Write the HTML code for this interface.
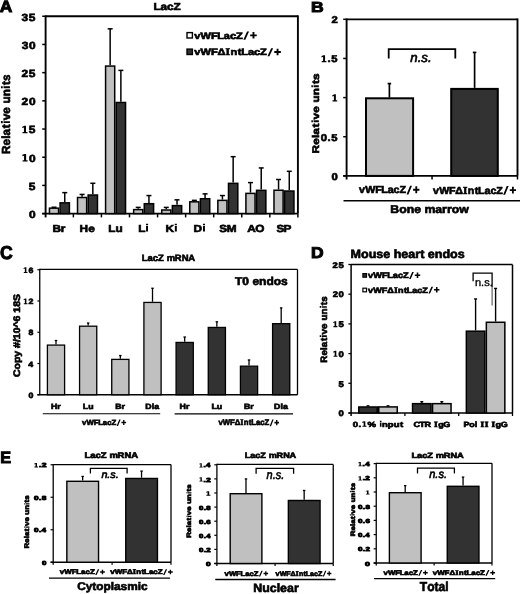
<!DOCTYPE html>
<html><head><meta charset="utf-8"><style>
html,body{margin:0;padding:0;background:#fff;}
body{width:520px;height:594px;overflow:hidden;}
svg{display:block;font-family:"Liberation Sans", sans-serif;font-kerning:none;}
.t text{stroke:#000;stroke-width:0.65px;paint-order:stroke;text-rendering:geometricPrecision;}
text{font-kerning:none;}
</style></head><body>
<svg width="520" height="594" viewBox="0 0 520 594">
<defs><filter id="bl" x="0" y="0" width="1" height="1"><feGaussianBlur stdDeviation="0.3"/></filter></defs>
<rect width="520" height="594" fill="#fff"/>
<g class="t" style="opacity:0.999" filter="url(#bl)">
<text transform="translate(-0.18 12.15) scale(1.0649 1)" font-size="16.377" style="font-weight:bold;stroke-width:1px" fill="#000">A</text>
<text transform="translate(310.98 12.25) scale(1.1986 1)" font-size="14.638" style="font-weight:bold;stroke-width:1px" fill="#000">B</text>
<text transform="translate(0.03 258.55) scale(0.9408 1)" font-size="18.696" style="font-weight:bold;stroke-width:1px" fill="#000">C</text>
<text transform="translate(310.98 257.85) scale(1.1251 1)" font-size="15.507" style="font-weight:bold;stroke-width:1px" fill="#000">D</text>
<text transform="translate(0.16 462.5) scale(0.9948 1)" font-size="16.304" style="font-weight:bold;stroke-width:1px" fill="#000">E</text>
<g transform="translate(154.02 10.44) scale(1.1660 1)"><text font-size="10.109" style="font-weight:bold"><tspan x="-0.47">L</tspan><tspan x="5.54">a</tspan><tspan x="11.2">c</tspan><tspan x="16.69">Z</tspan></text></g>
<line x1="45.6" y1="16.3" x2="297.9" y2="16.3" stroke="#000" stroke-width="1.9"/>
<line x1="297.9" y1="15.35" x2="297.9" y2="213.6" stroke="#000" stroke-width="1.9"/>
<line x1="45.6" y1="15.35" x2="45.6" y2="217.4" stroke="#000" stroke-width="1.9"/>
<line x1="42.2" y1="213.6" x2="297.9" y2="213.6" stroke="#000" stroke-width="1.9"/>
<line x1="42.2" y1="213.6" x2="45.6" y2="213.6" stroke="#000" stroke-width="1.5"/>
<g transform="translate(28.6 217.89) scale(1.1500 1)"><text font-size="10.399" style="font-weight:bold"><tspan x="0.33">0</tspan></text></g>
<line x1="42.2" y1="185.41" x2="45.6" y2="185.41" stroke="#000" stroke-width="1.5"/>
<g transform="translate(28.47 189.7) scale(1.1500 1)"><text font-size="10.399" style="font-weight:bold"><tspan x="0.31">5</tspan></text></g>
<line x1="42.2" y1="157.22" x2="45.6" y2="157.22" stroke="#000" stroke-width="1.5"/>
<g transform="translate(21.2 161.51) scale(1.1500 1)"><text font-size="10.399" style="font-weight:bold"><tspan x="6.76">0</tspan></text><path d="M2.49 -1.35 L2.49 -5.88 L1.04 -5.2 L1.04 -6.66 L2.98 -7.56 L4.3 -7.56 L4.3 -1.35 L5.56 -1.35 L5.56 -0 L1.22 -0 L1.22 -1.35 Z" fill="#000"/></g>
<line x1="42.2" y1="129.03" x2="45.6" y2="129.03" stroke="#000" stroke-width="1.5"/>
<g transform="translate(21.07 133.32) scale(1.1500 1)"><text font-size="10.399" style="font-weight:bold"><tspan x="6.74">5</tspan></text><path d="M2.49 -1.35 L2.49 -5.88 L1.04 -5.2 L1.04 -6.66 L2.98 -7.56 L4.3 -7.56 L4.3 -1.35 L5.56 -1.35 L5.56 -0 L1.22 -0 L1.22 -1.35 Z" fill="#000"/></g>
<line x1="42.2" y1="100.84" x2="45.6" y2="100.84" stroke="#000" stroke-width="1.5"/>
<g transform="translate(21.2 105.13) scale(1.1500 1)"><text font-size="10.399" style="font-weight:bold"><tspan x="0.35">2</tspan><tspan x="6.76">0</tspan></text></g>
<line x1="42.2" y1="72.65" x2="45.6" y2="72.65" stroke="#000" stroke-width="1.5"/>
<g transform="translate(21.07 76.94) scale(1.1500 1)"><text font-size="10.399" style="font-weight:bold"><tspan x="0.35">2</tspan><tspan x="6.74">5</tspan></text></g>
<line x1="42.2" y1="44.46" x2="45.6" y2="44.46" stroke="#000" stroke-width="1.5"/>
<g transform="translate(21.2 48.75) scale(1.1500 1)"><text font-size="10.399" style="font-weight:bold"><tspan x="0.39">3</tspan><tspan x="6.76">0</tspan></text></g>
<line x1="42.2" y1="16.27" x2="45.6" y2="16.27" stroke="#000" stroke-width="1.5"/>
<g transform="translate(21.07 20.56) scale(1.1500 1)"><text font-size="10.399" style="font-weight:bold"><tspan x="0.39">3</tspan><tspan x="6.74">5</tspan></text></g>
<line x1="54.02" y1="207.4" x2="54.02" y2="207.23" stroke="#000" stroke-width="1.5"/>
<line x1="51.52" y1="207.23" x2="56.52" y2="207.23" stroke="#000" stroke-width="1.5"/>
<line x1="64.75" y1="202.1" x2="64.75" y2="192.63" stroke="#000" stroke-width="1.5"/>
<line x1="62.25" y1="192.63" x2="67.25" y2="192.63" stroke="#000" stroke-width="1.5"/>
<rect x="49.45" y="208.15" width="9.13" height="5.45" fill="#c0c0c0" stroke="#000" stroke-width="1.5"/>
<rect x="60.08" y="202.85" width="9.33" height="10.75" fill="#333333" stroke="#000" stroke-width="1.5"/>
<g transform="translate(53.09 231.54) scale(1.1500 1)"><text font-size="10.254" style="font-weight:bold"><tspan x="-0.42">B</tspan><tspan x="6.75">r</tspan></text></g>
<line x1="73.37" y1="213.6" x2="73.37" y2="217.4" stroke="#000" stroke-width="1.5"/>
<line x1="82.08" y1="196.74" x2="82.08" y2="194.43" stroke="#000" stroke-width="1.5"/>
<line x1="79.58" y1="194.43" x2="84.58" y2="194.43" stroke="#000" stroke-width="1.5"/>
<line x1="92.82" y1="194.26" x2="92.82" y2="183.27" stroke="#000" stroke-width="1.5"/>
<line x1="90.32" y1="183.27" x2="95.32" y2="183.27" stroke="#000" stroke-width="1.5"/>
<rect x="77.52" y="197.49" width="9.13" height="16.11" fill="#c0c0c0" stroke="#000" stroke-width="1.5"/>
<rect x="88.15" y="195.01" width="9.33" height="18.59" fill="#333333" stroke="#000" stroke-width="1.5"/>
<g transform="translate(79.57 231.54) scale(1.1500 1)"><text font-size="10.254" style="font-weight:bold"><tspan x="0.03">H</tspan><tspan x="7.55">e</tspan></text></g>
<line x1="101.43" y1="213.6" x2="101.43" y2="217.4" stroke="#000" stroke-width="1.5"/>
<line x1="110.15" y1="65.32" x2="110.15" y2="28.84" stroke="#000" stroke-width="1.5"/>
<line x1="107.65" y1="28.84" x2="112.65" y2="28.84" stroke="#000" stroke-width="1.5"/>
<line x1="120.88" y1="101.74" x2="120.88" y2="70.39" stroke="#000" stroke-width="1.5"/>
<line x1="118.38" y1="70.39" x2="123.38" y2="70.39" stroke="#000" stroke-width="1.5"/>
<rect x="105.58" y="66.07" width="9.13" height="147.53" fill="#c0c0c0" stroke="#000" stroke-width="1.5"/>
<rect x="116.22" y="102.49" width="9.33" height="111.11" fill="#333333" stroke="#000" stroke-width="1.5"/>
<g transform="translate(108.83 231.54) scale(1.1500 1)"><text font-size="10.254" style="font-weight:bold"><tspan x="-0.48">L</tspan><tspan x="5.74">u</tspan></text></g>
<line x1="129.5" y1="213.6" x2="129.5" y2="217.4" stroke="#000" stroke-width="1.5"/>
<line x1="138.22" y1="208.86" x2="138.22" y2="207.4" stroke="#000" stroke-width="1.5"/>
<line x1="135.72" y1="207.4" x2="140.72" y2="207.4" stroke="#000" stroke-width="1.5"/>
<line x1="148.95" y1="202.94" x2="148.95" y2="195.56" stroke="#000" stroke-width="1.5"/>
<line x1="146.45" y1="195.56" x2="151.45" y2="195.56" stroke="#000" stroke-width="1.5"/>
<rect x="133.65" y="209.61" width="9.13" height="3.99" fill="#c0c0c0" stroke="#000" stroke-width="1.5"/>
<rect x="144.28" y="203.69" width="9.33" height="9.91" fill="#333333" stroke="#000" stroke-width="1.5"/>
<g transform="translate(138.75 231.54) scale(1.1500 1)"><text font-size="10.254" style="font-weight:bold"><tspan x="-0.48">L</tspan></text><path d="M6.35 -0 H8.06 V-5.59 H6.35 Z M6.3 -6.31 H8.1 V-7.9 H6.3 Z" fill="#000"/></g>
<line x1="157.57" y1="213.6" x2="157.57" y2="217.4" stroke="#000" stroke-width="1.5"/>
<line x1="166.28" y1="209.26" x2="166.28" y2="207.4" stroke="#000" stroke-width="1.5"/>
<line x1="163.78" y1="207.4" x2="168.78" y2="207.4" stroke="#000" stroke-width="1.5"/>
<line x1="177.02" y1="204.86" x2="177.02" y2="199.84" stroke="#000" stroke-width="1.5"/>
<line x1="174.52" y1="199.84" x2="179.52" y2="199.84" stroke="#000" stroke-width="1.5"/>
<rect x="161.72" y="210.01" width="9.13" height="3.59" fill="#c0c0c0" stroke="#000" stroke-width="1.5"/>
<rect x="172.35" y="205.61" width="9.33" height="7.99" fill="#333333" stroke="#000" stroke-width="1.5"/>
<g transform="translate(166.18 231.54) scale(1.1500 1)"><text font-size="10.254" style="font-weight:bold"><tspan x="-0.56">K</tspan></text><path d="M7.54 -0 H9.26 V-5.59 H7.54 Z M7.5 -6.31 H9.3 V-7.9 H7.5 Z" fill="#000"/></g>
<line x1="185.63" y1="213.6" x2="185.63" y2="217.4" stroke="#000" stroke-width="1.5"/>
<line x1="194.35" y1="201.08" x2="194.35" y2="200.35" stroke="#000" stroke-width="1.5"/>
<line x1="191.85" y1="200.35" x2="196.85" y2="200.35" stroke="#000" stroke-width="1.5"/>
<line x1="205.08" y1="197.98" x2="205.08" y2="193.87" stroke="#000" stroke-width="1.5"/>
<line x1="202.58" y1="193.87" x2="207.58" y2="193.87" stroke="#000" stroke-width="1.5"/>
<rect x="189.78" y="201.83" width="9.13" height="11.77" fill="#c0c0c0" stroke="#000" stroke-width="1.5"/>
<rect x="200.42" y="198.73" width="9.33" height="14.87" fill="#333333" stroke="#000" stroke-width="1.5"/>
<g transform="translate(193.7 231.54) scale(1.1500 1)"><text font-size="10.254" style="font-weight:bold"><tspan x="-0.13">D</tspan></text><path d="M8.07 -0 H9.78 V-5.59 H8.07 Z M8.02 -6.31 H9.83 V-7.9 H8.02 Z" fill="#000"/></g>
<line x1="213.7" y1="213.6" x2="213.7" y2="217.4" stroke="#000" stroke-width="1.5"/>
<line x1="222.42" y1="199.62" x2="222.42" y2="195.56" stroke="#000" stroke-width="1.5"/>
<line x1="219.92" y1="195.56" x2="224.92" y2="195.56" stroke="#000" stroke-width="1.5"/>
<line x1="233.15" y1="182.59" x2="233.15" y2="156.66" stroke="#000" stroke-width="1.5"/>
<line x1="230.65" y1="156.66" x2="235.65" y2="156.66" stroke="#000" stroke-width="1.5"/>
<rect x="217.85" y="200.37" width="9.13" height="13.23" fill="#c0c0c0" stroke="#000" stroke-width="1.5"/>
<rect x="228.48" y="183.34" width="9.33" height="30.26" fill="#333333" stroke="#000" stroke-width="1.5"/>
<g transform="translate(219.55 231.54) scale(1.1500 1)"><text font-size="10.254" style="font-weight:bold"><tspan x="-0.2">S</tspan><tspan x="6.29">M</tspan></text></g>
<line x1="241.77" y1="213.6" x2="241.77" y2="217.4" stroke="#000" stroke-width="1.5"/>
<line x1="250.48" y1="192.63" x2="250.48" y2="182.59" stroke="#000" stroke-width="1.5"/>
<line x1="247.98" y1="182.59" x2="252.98" y2="182.59" stroke="#000" stroke-width="1.5"/>
<line x1="261.22" y1="189.58" x2="261.22" y2="167.93" stroke="#000" stroke-width="1.5"/>
<line x1="258.72" y1="167.93" x2="263.72" y2="167.93" stroke="#000" stroke-width="1.5"/>
<rect x="245.92" y="193.38" width="9.13" height="20.22" fill="#c0c0c0" stroke="#000" stroke-width="1.5"/>
<rect x="256.55" y="190.33" width="9.33" height="23.27" fill="#333333" stroke="#000" stroke-width="1.5"/>
<g transform="translate(247.58 231.54) scale(1.1500 1)"><text font-size="10.254" style="font-weight:bold"><tspan x="-0.24">A</tspan><tspan x="6.73">O</tspan></text></g>
<line x1="269.83" y1="213.6" x2="269.83" y2="217.4" stroke="#000" stroke-width="1.5"/>
<line x1="278.55" y1="189.47" x2="278.55" y2="179.49" stroke="#000" stroke-width="1.5"/>
<line x1="276.05" y1="179.49" x2="281.05" y2="179.49" stroke="#000" stroke-width="1.5"/>
<line x1="289.28" y1="190.26" x2="289.28" y2="171.31" stroke="#000" stroke-width="1.5"/>
<line x1="286.78" y1="171.31" x2="291.78" y2="171.31" stroke="#000" stroke-width="1.5"/>
<rect x="273.98" y="190.22" width="9.13" height="23.38" fill="#c0c0c0" stroke="#000" stroke-width="1.5"/>
<rect x="284.62" y="191.01" width="9.33" height="22.59" fill="#333333" stroke="#000" stroke-width="1.5"/>
<g transform="translate(276.63 231.54) scale(1.1500 1)"><text font-size="10.254" style="font-weight:bold"><tspan x="-0.2">S</tspan><tspan x="6.01">P</tspan></text></g>
<line x1="297.9" y1="213.6" x2="297.9" y2="217.4" stroke="#000" stroke-width="1.5"/>
<rect x="187" y="32.6" width="5.4" height="5.4" fill="#fff" stroke="#000" stroke-width="1.4"/>
<rect x="187" y="49.1" width="5.4" height="5.4" fill="#333333" stroke="#000" stroke-width="1.4"/>
<g transform="translate(194.26 38.59) scale(1.1718 1)"><text font-size="9.457" style="font-weight:bold"><tspan x="0.05">v</tspan><tspan x="5.43">W</tspan><tspan x="14.21">F</tspan><tspan x="19.61">L</tspan><tspan x="25.23">a</tspan><tspan x="30.52">c</tspan><tspan x="35.66">Z</tspan></text><path d="M41.9 1.04 L43.58 1.04 L46.75 -7.05 L45.06 -7.05 Z M47.73 -2.36 H53.32 V-4.21 H47.73 Z M49.72 -0.09 H51.33 V-6.48 H49.72 Z" fill="#000"/></g>
<g transform="translate(194.26 55.24) scale(1.1825 1)"><text font-size="9.384" style="font-weight:bold"><tspan x="0.05">v</tspan><tspan x="5.39">W</tspan><tspan x="14.1">F</tspan><tspan x="19.69">Δ</tspan><tspan x="26.53" style="font-family:'Liberation Serif',serif" font-size="9.857">I</tspan><tspan x="30.69">n</tspan><tspan x="36.78">t</tspan><tspan x="39.77">L</tspan><tspan x="45.35">a</tspan><tspan x="50.6">c</tspan><tspan x="55.69">Z</tspan></text><path d="M61.89 1.03 L63.56 1.03 L66.7 -6.99 L65.03 -6.99 Z M67.67 -2.35 H73.22 V-4.18 H67.67 Z M69.65 -0.09 H71.25 V-6.43 H69.65 Z" fill="#000"/></g>
<g transform="translate(9.94 153.24) rotate(-90) translate(-0.2 0) scale(1.0023 1)"><text font-size="11.703" style="font-weight:bold"><tspan x="-0.58">R</tspan><tspan x="7.93">e</tspan><tspan x="14.71">l</tspan><tspan x="18.01">a</tspan><tspan x="25.24">t</tspan><tspan x="33.06">v</tspan><tspan x="39.72">e</tspan><tspan x="49.94">u</tspan><tspan x="57.14">n</tspan><tspan x="68.21">t</tspan><tspan x="72.27">s</tspan></text><path d="M30.27 -0 H32.23 V-6.38 H30.27 Z M30.22 -7.2 H32.28 V-9.01 H30.22 Z M65.12 -0 H67.07 V-6.38 H65.12 Z M65.07 -7.2 H67.12 V-9.01 H65.07 Z" fill="#000"/></g>
<line x1="346.6" y1="19.4" x2="517.5" y2="19.4" stroke="#000" stroke-width="1.9"/>
<line x1="517.5" y1="18.45" x2="517.5" y2="175.9" stroke="#000" stroke-width="1.9"/>
<line x1="346.6" y1="18.45" x2="346.6" y2="179.5" stroke="#000" stroke-width="1.9"/>
<line x1="343.2" y1="175.9" x2="517.5" y2="175.9" stroke="#000" stroke-width="1.9"/>
<line x1="343.2" y1="175.9" x2="346.6" y2="175.9" stroke="#000" stroke-width="1.5"/>
<g transform="translate(331.06 179.79) scale(1.1500 1)"><text font-size="9.819" style="font-weight:bold"><tspan x="0.31">0</tspan></text></g>
<line x1="343.2" y1="136.75" x2="346.6" y2="136.75" stroke="#000" stroke-width="1.5"/>
<g transform="translate(320.39 140.64) scale(1.1500 1)"><text font-size="9.819" style="font-weight:bold"><tspan x="0.31">0</tspan><tspan x="6.26">.</tspan><tspan x="9.46">5</tspan></text></g>
<line x1="343.2" y1="97.6" x2="346.6" y2="97.6" stroke="#000" stroke-width="1.5"/>
<g transform="translate(331.2 101.49) scale(1.1500 1)"><path d="M2.35 -1.28 L2.35 -5.55 L0.98 -4.91 L0.98 -6.28 L2.82 -7.14 L4.06 -7.14 L4.06 -1.28 L5.25 -1.28 L5.25 -0 L1.15 -0 L1.15 -1.28 Z" fill="#000"/></g>
<line x1="343.2" y1="58.45" x2="346.6" y2="58.45" stroke="#000" stroke-width="1.5"/>
<g transform="translate(320.39 62.34) scale(1.1500 1)"><text font-size="9.819" style="font-weight:bold"><tspan x="6.26">.</tspan><tspan x="9.46">5</tspan></text><path d="M2.35 -1.28 L2.35 -5.55 L0.98 -4.91 L0.98 -6.28 L2.82 -7.14 L4.06 -7.14 L4.06 -1.28 L5.25 -1.28 L5.25 -0 L1.15 -0 L1.15 -1.28 Z" fill="#000"/></g>
<line x1="343.2" y1="19.3" x2="346.6" y2="19.3" stroke="#000" stroke-width="1.5"/>
<g transform="translate(331.03 23.19) scale(1.1500 1)"><text font-size="9.819" style="font-weight:bold"><tspan x="0.33">2</tspan></text></g>
<line x1="432.05" y1="175.9" x2="432.05" y2="179.5" stroke="#000" stroke-width="1.5"/>
<line x1="517.5" y1="175.9" x2="517.5" y2="179.5" stroke="#000" stroke-width="1.5"/>
<line x1="389.4" y1="97.6" x2="389.4" y2="83.58" stroke="#000" stroke-width="1.7"/>
<line x1="387.65" y1="83.58" x2="391.15" y2="83.58" stroke="#000" stroke-width="1.7"/>
<line x1="474.6" y1="87.89" x2="474.6" y2="52.42" stroke="#000" stroke-width="1.7"/>
<line x1="472.85" y1="52.42" x2="476.35" y2="52.42" stroke="#000" stroke-width="1.7"/>
<rect x="366" y="98.29" width="47.1" height="77.61" fill="#c0c0c0" stroke="#000" stroke-width="2"/>
<rect x="451.2" y="88.89" width="46.6" height="87.01" fill="#333333" stroke="#000" stroke-width="2"/>
<polyline points="388.7,58.4 388.7,49.2 455.3,49.2 455.3,58.4" fill="none" stroke="#000" stroke-width="1.8"/>
<text transform="translate(410.24 61.94) scale(1.0100 1)" font-size="13.160" style="font-style:italic" fill="#000">n.s.</text>
<g transform="translate(318.84 152.64) rotate(-90) translate(-0.21 0) scale(1.2202 1)"><text font-size="9.674" style="font-weight:bold"><tspan x="-0.48">R</tspan><tspan x="6.56">e</tspan><tspan x="12.16">l</tspan><tspan x="14.89">a</tspan><tspan x="20.87">t</tspan><tspan x="27.33">v</tspan><tspan x="32.84">e</tspan><tspan x="41.28">u</tspan><tspan x="47.23">n</tspan><tspan x="56.38">t</tspan><tspan x="59.74">s</tspan></text><path d="M25.03 -0 H26.64 V-5.27 H25.03 Z M24.98 -5.95 H26.68 V-7.45 H24.98 Z M53.83 -0 H55.44 V-5.27 H53.83 Z M53.79 -5.95 H55.49 V-7.45 H53.79 Z" fill="#000"/></g>
<g transform="translate(359.06 193.34) scale(1.0444 1)"><text font-size="10.254" style="font-weight:bold"><tspan x="0.06">v</tspan><tspan x="5.89">W</tspan><tspan x="15.41">F</tspan><tspan x="21.26">L</tspan><tspan x="27.36">a</tspan><tspan x="33.09">c</tspan><tspan x="38.66">Z</tspan></text><path d="M45.43 1.13 L47.26 1.13 L50.69 -7.64 L48.86 -7.64 Z M51.75 -2.56 H57.81 V-4.56 H51.75 Z M53.91 -0.1 H55.65 V-7.02 H53.91 Z" fill="#000"/></g>
<g transform="translate(433.06 193.64) scale(1.0520 1)"><text font-size="10.109" style="font-weight:bold"><tspan x="0.06">v</tspan><tspan x="5.81">W</tspan><tspan x="15.19">F</tspan><tspan x="21.21">Δ</tspan><tspan x="28.58" style="font-family:'Liberation Serif',serif" font-size="10.618">I</tspan><tspan x="33.06">n</tspan><tspan x="39.62">t</tspan><tspan x="42.84">L</tspan><tspan x="48.85">a</tspan><tspan x="54.5">c</tspan><tspan x="59.99">Z</tspan></text><path d="M66.66 1.11 L68.47 1.11 L71.85 -7.53 L70.05 -7.53 Z M72.9 -2.53 H78.87 V-4.5 H72.9 Z M75.02 -0.1 H76.75 V-6.92 H75.02 Z" fill="#000"/></g>
<line x1="343.5" y1="200.8" x2="520" y2="200.8" stroke="#000" stroke-width="1.4"/>
<text transform="translate(390.34 213.04) scale(1.0898 1)" font-size="11.268" style="font-weight:bold" fill="#000">Bone marrow</text>
<g transform="translate(142.27 261.44) scale(1.0410 1)"><text font-size="9.094" style="font-weight:bold"><tspan x="-0.42">L</tspan><tspan x="4.99">a</tspan><tspan x="10.07">c</tspan><tspan x="15.01">Z</tspan><tspan x="23.44">m</tspan><tspan x="31.24">R</tspan><tspan x="37.84">N</tspan><tspan x="44.27">A</tspan></text></g>
<line x1="39.75" y1="269.4" x2="297.5" y2="269.4" stroke="#000" stroke-width="1.3"/>
<line x1="297.5" y1="269.4" x2="297.5" y2="394.75" stroke="#000" stroke-width="1.3"/>
<line x1="39.75" y1="268.8" x2="39.75" y2="394.75" stroke="#000" stroke-width="1.3"/>
<line x1="37.4" y1="394.75" x2="297.5" y2="394.75" stroke="#000" stroke-width="1.3"/>
<line x1="37.4" y1="394.75" x2="39.75" y2="394.75" stroke="#000" stroke-width="1.2"/>
<g transform="translate(28.23 397.89) scale(1.1500 1)"><text font-size="7.645" style="font-weight:bold"><tspan x="0.24">0</tspan></text></g>
<line x1="37.4" y1="363.5" x2="39.75" y2="363.5" stroke="#000" stroke-width="1.2"/>
<g transform="translate(27.97 366.64) scale(1.1500 1)"><text font-size="7.645" style="font-weight:bold"><tspan x="0.2">4</tspan></text></g>
<line x1="37.4" y1="332.25" x2="39.75" y2="332.25" stroke="#000" stroke-width="1.2"/>
<g transform="translate(28.15 335.39) scale(1.1500 1)"><text font-size="7.645" style="font-weight:bold"><tspan x="0.23">8</tspan></text></g>
<line x1="37.4" y1="301" x2="39.75" y2="301" stroke="#000" stroke-width="1.2"/>
<g transform="translate(22.77 304.14) scale(1.1500 1)"><text font-size="7.645" style="font-weight:bold"><tspan x="4.98">2</tspan></text><path d="M1.83 -0.99 L1.83 -4.32 L0.76 -3.82 L0.76 -4.89 L2.19 -5.56 L3.16 -5.56 L3.16 -0.99 L4.09 -0.99 L4.09 -0 L0.9 -0 L0.9 -0.99 Z" fill="#000"/></g>
<line x1="37.4" y1="269.75" x2="39.75" y2="269.75" stroke="#000" stroke-width="1.2"/>
<g transform="translate(22.76 272.89) scale(1.1500 1)"><text font-size="7.645" style="font-weight:bold"><tspan x="4.96">6</tspan></text><path d="M1.83 -0.99 L1.83 -4.32 L0.76 -3.82 L0.76 -4.89 L2.19 -5.56 L3.16 -5.56 L3.16 -0.99 L4.09 -0.99 L4.09 -0 L0.9 -0 L0.9 -0.99 Z" fill="#000"/></g>
<line x1="56" y1="344.44" x2="56" y2="340.53" stroke="#000" stroke-width="1.3"/>
<line x1="54.75" y1="340.53" x2="57.25" y2="340.53" stroke="#000" stroke-width="1.3"/>
<rect x="47.4" y="345.09" width="17.2" height="49.66" fill="#c0c0c0" stroke="#000" stroke-width="1.3"/>
<g transform="translate(50.87 408.54) scale(1.1500 1)"><text font-size="7.645" style="font-weight:bold"><tspan x="0.02">H</tspan><tspan x="5.53">r</tspan></text></g>
<line x1="88.17" y1="325.53" x2="88.17" y2="323.03" stroke="#000" stroke-width="1.3"/>
<line x1="86.92" y1="323.03" x2="89.42" y2="323.03" stroke="#000" stroke-width="1.3"/>
<rect x="79.57" y="326.18" width="17.2" height="68.57" fill="#c0c0c0" stroke="#000" stroke-width="1.3"/>
<g transform="translate(83.22 408.54) scale(1.1500 1)"><text font-size="7.645" style="font-weight:bold"><tspan x="-0.36">L</tspan><tspan x="4.28">u</tspan></text></g>
<line x1="120.34" y1="358.73" x2="120.34" y2="355.53" stroke="#000" stroke-width="1.3"/>
<line x1="119.09" y1="355.53" x2="121.59" y2="355.53" stroke="#000" stroke-width="1.3"/>
<rect x="111.74" y="359.38" width="17.2" height="35.37" fill="#c0c0c0" stroke="#000" stroke-width="1.3"/>
<g transform="translate(115.68 408.54) scale(1.1500 1)"><text font-size="7.645" style="font-weight:bold"><tspan x="-0.31">B</tspan><tspan x="5.04">r</tspan></text></g>
<line x1="152.51" y1="301.78" x2="152.51" y2="288.27" stroke="#000" stroke-width="1.3"/>
<line x1="151.26" y1="288.27" x2="153.76" y2="288.27" stroke="#000" stroke-width="1.3"/>
<rect x="143.91" y="302.43" width="17.2" height="92.32" fill="#c0c0c0" stroke="#000" stroke-width="1.3"/>
<g transform="translate(145.34 408.54) scale(1.1500 1)"><text font-size="7.645" style="font-weight:bold"><tspan x="-0.1">D</tspan><tspan x="5.6">l</tspan><tspan x="7.75">a</tspan></text></g>
<line x1="184.68" y1="341.78" x2="184.68" y2="337.02" stroke="#000" stroke-width="1.3"/>
<line x1="183.43" y1="337.02" x2="185.93" y2="337.02" stroke="#000" stroke-width="1.3"/>
<rect x="176.08" y="342.43" width="17.2" height="52.32" fill="#333333" stroke="#000" stroke-width="1.3"/>
<g transform="translate(179.55 408.54) scale(1.1500 1)"><text font-size="7.645" style="font-weight:bold"><tspan x="0.02">H</tspan><tspan x="5.53">r</tspan></text></g>
<line x1="216.85" y1="326.78" x2="216.85" y2="321.78" stroke="#000" stroke-width="1.3"/>
<line x1="215.6" y1="321.78" x2="218.1" y2="321.78" stroke="#000" stroke-width="1.3"/>
<rect x="208.25" y="327.43" width="17.2" height="67.32" fill="#333333" stroke="#000" stroke-width="1.3"/>
<g transform="translate(211.9 408.54) scale(1.1500 1)"><text font-size="7.645" style="font-weight:bold"><tspan x="-0.36">L</tspan><tspan x="4.28">u</tspan></text></g>
<line x1="249.02" y1="365.53" x2="249.02" y2="359.98" stroke="#000" stroke-width="1.3"/>
<line x1="247.77" y1="359.98" x2="250.27" y2="359.98" stroke="#000" stroke-width="1.3"/>
<rect x="240.42" y="366.18" width="17.2" height="28.57" fill="#333333" stroke="#000" stroke-width="1.3"/>
<g transform="translate(244.36 408.54) scale(1.1500 1)"><text font-size="7.645" style="font-weight:bold"><tspan x="-0.31">B</tspan><tspan x="5.04">r</tspan></text></g>
<line x1="281.19" y1="323.03" x2="281.19" y2="307.88" stroke="#000" stroke-width="1.3"/>
<line x1="279.94" y1="307.88" x2="282.44" y2="307.88" stroke="#000" stroke-width="1.3"/>
<rect x="272.59" y="323.68" width="17.2" height="71.07" fill="#333333" stroke="#000" stroke-width="1.3"/>
<g transform="translate(274.02 408.54) scale(1.1500 1)"><text font-size="7.645" style="font-weight:bold"><tspan x="-0.1">D</tspan><tspan x="5.6">l</tspan><tspan x="7.75">a</tspan></text></g>
<line x1="42.75" y1="413.75" x2="160.2" y2="413.75" stroke="#000" stroke-width="1.1"/>
<line x1="174.6" y1="413.9" x2="293" y2="413.9" stroke="#000" stroke-width="1.1"/>
<g transform="translate(81.99 425.09) scale(1.0530 1)"><text font-size="7.428" style="font-weight:bold"><tspan x="0.04">v</tspan><tspan x="4.27">W</tspan><tspan x="11.16">F</tspan><tspan x="15.4">L</tspan><tspan x="19.82">a</tspan><tspan x="23.97">c</tspan><tspan x="28.01">Z</tspan></text><path d="M32.91 0.82 L34.23 0.82 L36.72 -5.53 L35.39 -5.53 Z M37.49 -1.86 H41.88 V-3.31 H37.49 Z M39.05 -0.07 H40.32 V-5.09 H39.05 Z" fill="#000"/></g>
<g transform="translate(218.39 425.44) scale(0.9620 1)"><text font-size="8.080" style="font-weight:bold"><tspan x="0.05">v</tspan><tspan x="4.64">W</tspan><tspan x="12.14">F</tspan><tspan x="16.95">Δ</tspan><tspan x="22.84" style="font-family:'Liberation Serif',serif" font-size="8.487">I</tspan><tspan x="26.43">n</tspan><tspan x="31.67">t</tspan><tspan x="34.24">L</tspan><tspan x="39.05">a</tspan><tspan x="43.56">c</tspan><tspan x="47.95">Z</tspan></text><path d="M53.28 0.89 L54.72 0.89 L57.43 -6.02 L55.99 -6.02 Z M58.27 -2.02 H63.04 V-3.6 H58.27 Z M59.97 -0.08 H61.34 V-5.53 H59.97 Z" fill="#000"/></g>
<text transform="translate(235.03 285.14) scale(1.0675 1)" font-size="11.268" style="font-weight:bold" fill="#000">T0 endos</text>
<text transform="translate(19.84 376.54) rotate(-90) translate(-0.43 0) scale(1.0998 1)" font-size="9.529" style="font-weight:bold" fill="#000">Copy #/10^6 18S</text>
<text transform="translate(350.57 257.84) scale(1.0585 1)" font-size="11.848" style="font-weight:bold" fill="#000">Mouse heart endos</text>
<line x1="351.1" y1="264.6" x2="512.5" y2="264.6" stroke="#000" stroke-width="1.5"/>
<line x1="512.5" y1="264.6" x2="512.5" y2="413" stroke="#000" stroke-width="1.5"/>
<line x1="351.1" y1="263.9" x2="351.1" y2="416" stroke="#000" stroke-width="1.5"/>
<line x1="348.4" y1="413" x2="512.5" y2="413" stroke="#000" stroke-width="1.5"/>
<line x1="348.4" y1="413" x2="351.1" y2="413" stroke="#000" stroke-width="1.3"/>
<g transform="translate(338.26 416.24) scale(1.1500 1)"><text font-size="8.225" style="font-weight:bold"><tspan x="0.26">0</tspan></text></g>
<line x1="348.4" y1="383.3" x2="351.1" y2="383.3" stroke="#000" stroke-width="1.3"/>
<g transform="translate(338.16 386.54) scale(1.1500 1)"><text font-size="8.225" style="font-weight:bold"><tspan x="0.24">5</tspan></text></g>
<line x1="348.4" y1="353.6" x2="351.1" y2="353.6" stroke="#000" stroke-width="1.3"/>
<g transform="translate(332.42 356.84) scale(1.1500 1)"><text font-size="8.225" style="font-weight:bold"><tspan x="5.35">0</tspan></text><path d="M1.97 -1.07 L1.97 -4.65 L0.82 -4.11 L0.82 -5.26 L2.36 -5.98 L3.4 -5.98 L3.4 -1.07 L4.4 -1.07 L4.4 -0 L0.97 -0 L0.97 -1.07 Z" fill="#000"/></g>
<line x1="348.4" y1="323.9" x2="351.1" y2="323.9" stroke="#000" stroke-width="1.3"/>
<g transform="translate(332.31 327.14) scale(1.1500 1)"><text font-size="8.225" style="font-weight:bold"><tspan x="5.33">5</tspan></text><path d="M1.97 -1.07 L1.97 -4.65 L0.82 -4.11 L0.82 -5.26 L2.36 -5.98 L3.4 -5.98 L3.4 -1.07 L4.4 -1.07 L4.4 -0 L0.97 -0 L0.97 -1.07 Z" fill="#000"/></g>
<line x1="348.4" y1="294.2" x2="351.1" y2="294.2" stroke="#000" stroke-width="1.3"/>
<g transform="translate(332.42 297.44) scale(1.1500 1)"><text font-size="8.225" style="font-weight:bold"><tspan x="0.28">2</tspan><tspan x="5.35">0</tspan></text></g>
<line x1="348.4" y1="264.5" x2="351.1" y2="264.5" stroke="#000" stroke-width="1.3"/>
<g transform="translate(332.31 267.74) scale(1.1500 1)"><text font-size="8.225" style="font-weight:bold"><tspan x="0.28">2</tspan><tspan x="5.33">5</tspan></text></g>
<line x1="404.9" y1="413" x2="404.9" y2="416" stroke="#000" stroke-width="1.3"/>
<line x1="458.7" y1="413" x2="458.7" y2="416" stroke="#000" stroke-width="1.3"/>
<line x1="512.5" y1="413" x2="512.5" y2="416" stroke="#000" stroke-width="1.3"/>
<line x1="368" y1="406.23" x2="368" y2="405.87" stroke="#000" stroke-width="1.4"/>
<line x1="366.5" y1="405.87" x2="369.5" y2="405.87" stroke="#000" stroke-width="1.4"/>
<line x1="388" y1="406.17" x2="388" y2="405.87" stroke="#000" stroke-width="1.4"/>
<line x1="386.5" y1="405.87" x2="389.5" y2="405.87" stroke="#000" stroke-width="1.4"/>
<rect x="358.75" y="406.98" width="18.5" height="6.02" fill="#333333" stroke="#000" stroke-width="1.5"/>
<rect x="378.75" y="406.92" width="18.5" height="6.08" fill="#c0c0c0" stroke="#000" stroke-width="1.5"/>
<line x1="421.8" y1="402.9" x2="421.8" y2="401.71" stroke="#000" stroke-width="1.4"/>
<line x1="420.3" y1="401.71" x2="423.3" y2="401.71" stroke="#000" stroke-width="1.4"/>
<line x1="441.8" y1="402.9" x2="441.8" y2="401.71" stroke="#000" stroke-width="1.4"/>
<line x1="440.3" y1="401.71" x2="443.3" y2="401.71" stroke="#000" stroke-width="1.4"/>
<rect x="412.55" y="403.65" width="18.5" height="9.35" fill="#333333" stroke="#000" stroke-width="1.5"/>
<rect x="432.55" y="403.65" width="18.5" height="9.35" fill="#c0c0c0" stroke="#000" stroke-width="1.5"/>
<line x1="475.6" y1="330.43" x2="475.6" y2="298.95" stroke="#000" stroke-width="1.4"/>
<line x1="474.1" y1="298.95" x2="477.1" y2="298.95" stroke="#000" stroke-width="1.4"/>
<line x1="495.6" y1="321.52" x2="495.6" y2="288.44" stroke="#000" stroke-width="1.4"/>
<line x1="494.1" y1="288.44" x2="497.1" y2="288.44" stroke="#000" stroke-width="1.4"/>
<rect x="466.35" y="331.18" width="18.5" height="81.82" fill="#333333" stroke="#000" stroke-width="1.5"/>
<rect x="486.35" y="322.27" width="18.5" height="90.73" fill="#c0c0c0" stroke="#000" stroke-width="1.5"/>
<polyline points="473.1,281.3 473.1,273.2 492.1,273.2 492.1,287" fill="none" stroke="#000" stroke-width="1.3"/>
<line x1="492.1" y1="286.5" x2="492.1" y2="305.6" stroke="#555" stroke-width="1.1"/>
<text transform="translate(474.95 285.91) scale(1.0244 1)" font-size="10.825" style=";stroke-width:0.35px" fill="#000">n.s.</text>
<rect x="362.9" y="273.6" width="3.6" height="3.6" fill="#333333" stroke="#000" stroke-width="1.2"/>
<rect x="362.9" y="288.2" width="3.6" height="3.6" fill="#fff" stroke="#000" stroke-width="1.2"/>
<g transform="translate(368.07 278.14) scale(1.1451 1)"><text font-size="8.080" style="font-weight:bold"><tspan x="0.05">v</tspan><tspan x="4.64">W</tspan><tspan x="12.14">F</tspan><tspan x="16.75">L</tspan><tspan x="21.56">a</tspan><tspan x="26.08">c</tspan><tspan x="30.47">Z</tspan></text><path d="M35.8 0.89 L37.24 0.89 L39.94 -6.02 L38.5 -6.02 Z M40.78 -2.02 H45.56 V-3.6 H40.78 Z M42.48 -0.08 H43.86 V-5.53 H42.48 Z" fill="#000"/></g>
<g transform="translate(368.08 292.54) scale(1.1526 1)"><text font-size="7.935" style="font-weight:bold"><tspan x="0.04">v</tspan><tspan x="4.56">W</tspan><tspan x="11.92">F</tspan><tspan x="16.65">Δ</tspan><tspan x="22.43" style="font-family:'Liberation Serif',serif" font-size="8.335">I</tspan><tspan x="25.95">n</tspan><tspan x="31.1">t</tspan><tspan x="33.63">L</tspan><tspan x="38.35">a</tspan><tspan x="42.78">c</tspan><tspan x="47.09">Z</tspan></text><path d="M52.33 0.87 L53.74 0.87 L56.4 -5.91 L54.98 -5.91 Z M57.22 -1.98 H61.91 V-3.53 H57.22 Z M58.89 -0.08 H60.24 V-5.44 H58.89 Z" fill="#000"/></g>
<g transform="translate(326.84 362.04) rotate(-90) translate(-0.17 0) scale(1.0587 1)"><text font-size="9.239" style="font-weight:bold"><tspan x="-0.46">R</tspan><tspan x="6.26">e</tspan><tspan x="11.62">l</tspan><tspan x="14.22">a</tspan><tspan x="19.93">t</tspan><tspan x="26.1">v</tspan><tspan x="31.36">e</tspan><tspan x="39.42">u</tspan><tspan x="45.11">n</tspan><tspan x="53.85">t</tspan><tspan x="57.06">s</tspan></text><path d="M23.9 -0 H25.44 V-5.04 H23.9 Z M23.86 -5.68 H25.48 V-7.11 H23.86 Z M51.41 -0 H52.95 V-5.04 H51.41 Z M51.37 -5.68 H52.99 V-7.11 H51.37 Z" fill="#000"/></g>
<g transform="translate(352.48 426.64) scale(1.2726 1)"><text font-size="7.500" style="font-weight:bold"><tspan x="0.24">0</tspan><tspan x="4.78">.</tspan><tspan x="11.9">%</tspan><tspan x="23.29">n</tspan><tspan x="27.81">p</tspan><tspan x="32.52">u</tspan><tspan x="37.36">t</tspan></text><path d="M8.8 -0.97 L8.8 -4.24 L7.75 -3.75 L7.75 -4.8 L9.16 -5.45 L10.1 -5.45 L10.1 -0.97 L11.02 -0.97 L11.02 -0 L7.88 -0 L7.88 -0.97 Z M21.53 -0 H22.79 V-4.09 H21.53 Z M21.5 -4.61 H22.82 V-5.77 H21.5 Z" fill="#000"/></g>
<g transform="translate(414.02 426.64) scale(1.2042 1)"><text font-size="7.500" style="font-weight:bold"><tspan x="-0.4">C</tspan><tspan x="4.65">T</tspan><tspan x="8.8">R</tspan><tspan x="16.67" style="font-family:'Liberation Serif',serif" font-size="7.878">I</tspan><tspan x="20.06">g</tspan><tspan x="24.37">G</tspan></text></g>
<g transform="translate(463.64 426.64) scale(1.1983 1)"><text font-size="7.500" style="font-weight:bold"><tspan x="-0.23">P</tspan><tspan x="4.73">o</tspan><tspan x="9.34">l</tspan><tspan x="13.97" style="font-family:'Liberation Serif',serif" font-size="7.878">I</tspan><tspan x="17.52" style="font-family:'Liberation Serif',serif" font-size="7.878">I</tspan><tspan x="23.31" style="font-family:'Liberation Serif',serif" font-size="7.878">I</tspan><tspan x="26.7">g</tspan><tspan x="31.01">G</tspan></text></g>
<line x1="53.2" y1="464.6" x2="171" y2="464.6" stroke="#000" stroke-width="1.3"/>
<line x1="171" y1="464.6" x2="171" y2="562.25" stroke="#000" stroke-width="1.3"/>
<line x1="53.2" y1="464" x2="53.2" y2="564.75" stroke="#000" stroke-width="1.3"/>
<line x1="50.6" y1="562.25" x2="171" y2="562.25" stroke="#000" stroke-width="1.3"/>
<line x1="50.6" y1="562.25" x2="53.2" y2="562.25" stroke="#000" stroke-width="1.2"/>
<g transform="translate(41.75 564.89) scale(1.3440 1)"><text font-size="5.906" style="font-weight:bold;stroke-width:0.85px"><tspan x="0.19">0</tspan></text></g>
<line x1="50.6" y1="529.75" x2="53.2" y2="529.75" stroke="#000" stroke-width="1.2"/>
<g transform="translate(33.73 532.39) scale(1.3850 1)"><text font-size="5.906" style="font-weight:bold;stroke-width:0.85px"><tspan x="0.19">0</tspan><tspan x="3.77">.</tspan><tspan x="5.67">4</tspan></text></g>
<line x1="50.6" y1="497.25" x2="53.2" y2="497.25" stroke="#000" stroke-width="1.2"/>
<g transform="translate(33.72 499.89) scale(1.4055 1)"><text font-size="5.906" style="font-weight:bold;stroke-width:0.85px"><tspan x="0.19">0</tspan><tspan x="3.77">.</tspan><tspan x="5.7">8</tspan></text></g>
<line x1="50.6" y1="464.75" x2="53.2" y2="464.75" stroke="#000" stroke-width="1.2"/>
<g transform="translate(33.46 467.39) scale(1.4409 1)"><text font-size="5.906" style="font-weight:bold;stroke-width:0.85px"><tspan x="3.77">.</tspan><tspan x="5.71">2</tspan></text><path d="M1.41 -0.77 L1.41 -3.34 L0.59 -2.95 L0.59 -3.78 L1.69 -4.29 L2.44 -4.29 L2.44 -0.77 L3.16 -0.77 L3.16 -0 L0.69 -0 L0.69 -0.77 Z" fill="#000"/></g>
<line x1="112.1" y1="562.25" x2="112.1" y2="564.75" stroke="#000" stroke-width="1.2"/>
<line x1="171" y1="562.25" x2="171" y2="564.75" stroke="#000" stroke-width="1.2"/>
<line x1="82.65" y1="480.59" x2="82.65" y2="476.45" stroke="#000" stroke-width="1.3"/>
<line x1="81.4" y1="476.45" x2="83.9" y2="476.45" stroke="#000" stroke-width="1.3"/>
<line x1="141.55" y1="477.75" x2="141.55" y2="471.09" stroke="#000" stroke-width="1.3"/>
<line x1="140.3" y1="471.09" x2="142.8" y2="471.09" stroke="#000" stroke-width="1.3"/>
<rect x="66.85" y="481.29" width="31.7" height="80.96" fill="#c0c0c0" stroke="#000" stroke-width="1.4"/>
<rect x="125.75" y="478.45" width="31.7" height="83.8" fill="#333333" stroke="#000" stroke-width="1.4"/>
<polyline points="90.4,473.6 90.4,468.4 127.1,468.4 127.1,473.6" fill="none" stroke="#000" stroke-width="1.3"/>
<text transform="translate(101.38 478.04) scale(1.0395 1)" font-size="10.370" style="font-style:italic" fill="#000">n.s.</text>
<g transform="translate(84.97 458.44) scale(1.1762 1)"><text font-size="8.080" style="font-weight:bold"><tspan x="-0.38">L</tspan><tspan x="4.43">a</tspan><tspan x="8.95">c</tspan><tspan x="13.34">Z</tspan><tspan x="20.83">m</tspan><tspan x="27.75">R</tspan><tspan x="33.62">N</tspan><tspan x="39.33">A</tspan></text></g>
<g transform="translate(59.69 574.34) scale(1.1819 1)"><text font-size="6.775" style="font-weight:bold"><tspan x="0.04">v</tspan><tspan x="3.89">W</tspan><tspan x="10.18">F</tspan><tspan x="14.05">L</tspan><tspan x="18.08">a</tspan><tspan x="21.87">c</tspan><tspan x="25.55">Z</tspan></text><path d="M30.02 0.75 L31.23 0.75 L33.49 -5.05 L32.29 -5.05 Z M34.19 -1.69 H38.2 V-3.02 H34.19 Z M35.62 -0.07 H36.78 V-4.64 H35.62 Z" fill="#000"/></g>
<g transform="translate(110.09 574.34) scale(1.1851 1)"><text font-size="6.775" style="font-weight:bold"><tspan x="0.04">v</tspan><tspan x="3.89">W</tspan><tspan x="10.18">F</tspan><tspan x="14.22">Δ</tspan><tspan x="19.16" style="font-family:'Liberation Serif',serif" font-size="7.117">I</tspan><tspan x="22.16">n</tspan><tspan x="26.56">t</tspan><tspan x="28.71">L</tspan><tspan x="32.74">a</tspan><tspan x="36.53">c</tspan><tspan x="40.21">Z</tspan></text><path d="M44.68 0.75 L45.89 0.75 L48.16 -5.05 L46.95 -5.05 Z M48.86 -1.69 H52.87 V-3.02 H48.86 Z M50.28 -0.07 H51.44 V-4.64 H50.28 Z" fill="#000"/></g>
<line x1="49" y1="578.1" x2="170" y2="578.1" stroke="#000" stroke-width="1.3"/>
<text transform="translate(77.18 590.34) scale(1.0660 1)" font-size="11.123" style="font-weight:bold" fill="#000">Cytoplasmic</text>
<g transform="translate(29.44 547.94) rotate(-90) translate(-0.14 0) scale(1.1561 1)"><text font-size="6.775" style="font-weight:bold"><tspan x="-0.34">R</tspan><tspan x="4.59">e</tspan><tspan x="8.52">l</tspan><tspan x="10.43">a</tspan><tspan x="14.61">t</tspan><tspan x="19.14">v</tspan><tspan x="23">e</tspan><tspan x="28.91">u</tspan><tspan x="33.08">n</tspan><tspan x="39.49">t</tspan><tspan x="41.84">s</tspan></text><path d="M17.53 -0 H18.66 V-3.69 H17.53 Z M17.5 -4.17 H18.69 V-5.22 H17.5 Z M37.7 -0 H38.83 V-3.69 H37.7 Z M37.67 -4.17 H38.86 V-5.22 H37.67 Z" fill="#000"/></g>
<line x1="216.9" y1="464.4" x2="333.25" y2="464.4" stroke="#000" stroke-width="1.3"/>
<line x1="333.25" y1="464.4" x2="333.25" y2="563.5" stroke="#000" stroke-width="1.3"/>
<line x1="216.9" y1="463.8" x2="216.9" y2="566" stroke="#000" stroke-width="1.3"/>
<line x1="214.3" y1="563.5" x2="333.25" y2="563.5" stroke="#000" stroke-width="1.3"/>
<line x1="214.3" y1="563.5" x2="216.9" y2="563.5" stroke="#000" stroke-width="1.2"/>
<g transform="translate(205.82 566.14) scale(1.4152 1)"><text font-size="5.906" style="font-weight:bold;stroke-width:0.85px"><tspan x="0.19">0</tspan></text></g>
<line x1="214.3" y1="549.4" x2="216.9" y2="549.4" stroke="#000" stroke-width="1.2"/>
<g transform="translate(198.75 552.04) scale(1.3277 1)"><text font-size="5.906" style="font-weight:bold;stroke-width:0.85px"><tspan x="0.19">0</tspan><tspan x="3.77">.</tspan><tspan x="5.71">2</tspan></text></g>
<line x1="214.3" y1="535.3" x2="216.9" y2="535.3" stroke="#000" stroke-width="1.2"/>
<g transform="translate(198.76 537.94) scale(1.3027 1)"><text font-size="5.906" style="font-weight:bold;stroke-width:0.85px"><tspan x="0.19">0</tspan><tspan x="3.77">.</tspan><tspan x="5.67">4</tspan></text></g>
<line x1="214.3" y1="521.2" x2="216.9" y2="521.2" stroke="#000" stroke-width="1.2"/>
<g transform="translate(198.75 523.84) scale(1.3268 1)"><text font-size="5.906" style="font-weight:bold;stroke-width:0.85px"><tspan x="0.19">0</tspan><tspan x="3.77">.</tspan><tspan x="5.7">6</tspan></text></g>
<line x1="214.3" y1="507.1" x2="216.9" y2="507.1" stroke="#000" stroke-width="1.2"/>
<g transform="translate(198.76 509.74) scale(1.3220 1)"><text font-size="5.906" style="font-weight:bold;stroke-width:0.85px"><tspan x="0.19">0</tspan><tspan x="3.77">.</tspan><tspan x="5.7">8</tspan></text></g>
<line x1="214.3" y1="493" x2="216.9" y2="493" stroke="#000" stroke-width="1.2"/>
<g transform="translate(205.25 495.64) scale(1.6259 1)"><path d="M1.41 -0.77 L1.41 -3.34 L0.59 -2.95 L0.59 -3.78 L1.69 -4.29 L2.44 -4.29 L2.44 -0.77 L3.16 -0.77 L3.16 -0 L0.69 -0 L0.69 -0.77 Z" fill="#000"/></g>
<line x1="214.3" y1="478.9" x2="216.9" y2="478.9" stroke="#000" stroke-width="1.2"/>
<g transform="translate(198.51 481.54) scale(1.3552 1)"><text font-size="5.906" style="font-weight:bold;stroke-width:0.85px"><tspan x="3.77">.</tspan><tspan x="5.71">2</tspan></text><path d="M1.41 -0.77 L1.41 -3.34 L0.59 -2.95 L0.59 -3.78 L1.69 -4.29 L2.44 -4.29 L2.44 -0.77 L3.16 -0.77 L3.16 -0 L0.69 -0 L0.69 -0.77 Z" fill="#000"/></g>
<line x1="214.3" y1="464.8" x2="216.9" y2="464.8" stroke="#000" stroke-width="1.2"/>
<g transform="translate(198.53 467.44) scale(1.3292 1)"><text font-size="5.906" style="font-weight:bold;stroke-width:0.85px"><tspan x="3.77">.</tspan><tspan x="5.67">4</tspan></text><path d="M1.41 -0.77 L1.41 -3.34 L0.59 -2.95 L0.59 -3.78 L1.69 -4.29 L2.44 -4.29 L2.44 -0.77 L3.16 -0.77 L3.16 -0 L0.69 -0 L0.69 -0.77 Z" fill="#000"/></g>
<line x1="275.07" y1="563.5" x2="275.07" y2="566" stroke="#000" stroke-width="1.2"/>
<line x1="333.25" y1="563.5" x2="333.25" y2="566" stroke="#000" stroke-width="1.2"/>
<line x1="245.99" y1="493" x2="245.99" y2="478.9" stroke="#000" stroke-width="1.3"/>
<line x1="244.74" y1="478.9" x2="247.24" y2="478.9" stroke="#000" stroke-width="1.3"/>
<line x1="304.16" y1="499.77" x2="304.16" y2="490.46" stroke="#000" stroke-width="1.3"/>
<line x1="302.91" y1="490.46" x2="305.41" y2="490.46" stroke="#000" stroke-width="1.3"/>
<rect x="230.19" y="493.7" width="31.7" height="69.8" fill="#c0c0c0" stroke="#000" stroke-width="1.4"/>
<rect x="288.36" y="500.47" width="31.7" height="63.03" fill="#333333" stroke="#000" stroke-width="1.4"/>
<polyline points="256.1,473.8 256.1,468.4 293.6,468.4 293.6,473.8" fill="none" stroke="#000" stroke-width="1.3"/>
<text transform="translate(266.58 478.54) scale(0.8715 1)" font-size="12.602" style="font-style:italic" fill="#000">n.s.</text>
<g transform="translate(245.23 458.34) scale(1.1488 1)"><text font-size="7.935" style="font-weight:bold"><tspan x="-0.37">L</tspan><tspan x="4.35">a</tspan><tspan x="8.79">c</tspan><tspan x="13.1">Z</tspan><tspan x="20.45">m</tspan><tspan x="27.25">R</tspan><tspan x="33.02">N</tspan><tspan x="38.62">A</tspan></text></g>
<g transform="translate(224.49 575.84) scale(1.1426 1)"><text font-size="6.775" style="font-weight:bold"><tspan x="0.04">v</tspan><tspan x="3.89">W</tspan><tspan x="10.18">F</tspan><tspan x="14.05">L</tspan><tspan x="18.08">a</tspan><tspan x="21.87">c</tspan><tspan x="25.55">Z</tspan></text><path d="M30.02 0.75 L31.23 0.75 L33.49 -5.05 L32.29 -5.05 Z M34.19 -1.69 H38.2 V-3.02 H34.19 Z M35.62 -0.07 H36.78 V-4.64 H35.62 Z" fill="#000"/></g>
<g transform="translate(275.59 575.84) scale(1.0544 1)"><text font-size="6.775" style="font-weight:bold"><tspan x="0.04">v</tspan><tspan x="3.89">W</tspan><tspan x="10.18">F</tspan><tspan x="14.22">Δ</tspan><tspan x="19.16" style="font-family:'Liberation Serif',serif" font-size="7.117">I</tspan><tspan x="22.16">n</tspan><tspan x="26.56">t</tspan><tspan x="28.71">L</tspan><tspan x="32.74">a</tspan><tspan x="36.53">c</tspan><tspan x="40.21">Z</tspan></text><path d="M44.68 0.75 L45.89 0.75 L48.16 -5.05 L46.95 -5.05 Z M48.86 -1.69 H52.87 V-3.02 H48.86 Z M50.28 -0.07 H51.44 V-4.64 H50.28 Z" fill="#000"/></g>
<line x1="215.25" y1="579.5" x2="335.6" y2="579.5" stroke="#000" stroke-width="1.3"/>
<text transform="translate(253.33 592.04) scale(1.0317 1)" font-size="11.993" style="font-weight:bold" fill="#000">Nuclear</text>
<g transform="translate(191.44 537.34) rotate(-90) translate(-0.14 0) scale(1.2472 1)"><text font-size="6.341" style="font-weight:bold"><tspan x="-0.31">R</tspan><tspan x="4.3">e</tspan><tspan x="7.97">l</tspan><tspan x="9.76">a</tspan><tspan x="13.68">t</tspan><tspan x="17.91">v</tspan><tspan x="21.52">e</tspan><tspan x="27.06">u</tspan><tspan x="30.96">n</tspan><tspan x="36.95">t</tspan><tspan x="39.16">s</tspan></text><path d="M16.4 -0 H17.46 V-3.46 H16.4 Z M16.38 -3.9 H17.49 V-4.88 H16.38 Z M35.28 -0 H36.34 V-3.46 H35.28 Z M35.25 -3.9 H36.37 V-4.88 H35.25 Z" fill="#000"/></g>
<line x1="376.25" y1="463.3" x2="492" y2="463.3" stroke="#000" stroke-width="1.3"/>
<line x1="492" y1="463.3" x2="492" y2="563" stroke="#000" stroke-width="1.3"/>
<line x1="376.25" y1="462.7" x2="376.25" y2="565.5" stroke="#000" stroke-width="1.3"/>
<line x1="373.65" y1="563" x2="492" y2="563" stroke="#000" stroke-width="1.3"/>
<line x1="373.65" y1="563" x2="376.25" y2="563" stroke="#000" stroke-width="1.2"/>
<g transform="translate(364.79 565.59) scale(1.5238 1)"><text font-size="5.761" style="font-weight:bold;stroke-width:0.85px"><tspan x="0.18">0</tspan></text></g>
<line x1="373.65" y1="548.8" x2="376.25" y2="548.8" stroke="#000" stroke-width="1.2"/>
<g transform="translate(357.74 551.39) scale(1.3857 1)"><text font-size="5.761" style="font-weight:bold;stroke-width:0.85px"><tspan x="0.18">0</tspan><tspan x="3.67">.</tspan><tspan x="5.57">2</tspan></text></g>
<line x1="373.65" y1="534.6" x2="376.25" y2="534.6" stroke="#000" stroke-width="1.2"/>
<g transform="translate(357.75 537.19) scale(1.3596 1)"><text font-size="5.761" style="font-weight:bold;stroke-width:0.85px"><tspan x="0.18">0</tspan><tspan x="3.67">.</tspan><tspan x="5.53">4</tspan></text></g>
<line x1="373.65" y1="520.4" x2="376.25" y2="520.4" stroke="#000" stroke-width="1.2"/>
<g transform="translate(357.74 522.99) scale(1.3847 1)"><text font-size="5.761" style="font-weight:bold;stroke-width:0.85px"><tspan x="0.18">0</tspan><tspan x="3.67">.</tspan><tspan x="5.56">6</tspan></text></g>
<line x1="373.65" y1="506.2" x2="376.25" y2="506.2" stroke="#000" stroke-width="1.2"/>
<g transform="translate(357.75 508.79) scale(1.3797 1)"><text font-size="5.761" style="font-weight:bold;stroke-width:0.85px"><tspan x="0.18">0</tspan><tspan x="3.67">.</tspan><tspan x="5.56">8</tspan></text></g>
<line x1="373.65" y1="492" x2="376.25" y2="492" stroke="#000" stroke-width="1.2"/>
<g transform="translate(364.94 494.59) scale(1.5072 1)"><path d="M1.38 -0.75 L1.38 -3.25 L0.58 -2.88 L0.58 -3.69 L1.65 -4.19 L2.38 -4.19 L2.38 -0.75 L3.08 -0.75 L3.08 -0 L0.68 -0 L0.68 -0.75 Z" fill="#000"/></g>
<line x1="373.65" y1="477.8" x2="376.25" y2="477.8" stroke="#000" stroke-width="1.2"/>
<g transform="translate(357.5 480.39) scale(1.4144 1)"><text font-size="5.761" style="font-weight:bold;stroke-width:0.85px"><tspan x="3.67">.</tspan><tspan x="5.57">2</tspan></text><path d="M1.38 -0.75 L1.38 -3.25 L0.58 -2.88 L0.58 -3.69 L1.65 -4.19 L2.38 -4.19 L2.38 -0.75 L3.08 -0.75 L3.08 -0 L0.68 -0 L0.68 -0.75 Z" fill="#000"/></g>
<line x1="373.65" y1="463.6" x2="376.25" y2="463.6" stroke="#000" stroke-width="1.2"/>
<g transform="translate(357.51 466.19) scale(1.3872 1)"><text font-size="5.761" style="font-weight:bold;stroke-width:0.85px"><tspan x="3.67">.</tspan><tspan x="5.53">4</tspan></text><path d="M1.38 -0.75 L1.38 -3.25 L0.58 -2.88 L0.58 -3.69 L1.65 -4.19 L2.38 -4.19 L2.38 -0.75 L3.08 -0.75 L3.08 -0 L0.68 -0 L0.68 -0.75 Z" fill="#000"/></g>
<line x1="434.12" y1="563" x2="434.12" y2="565.5" stroke="#000" stroke-width="1.2"/>
<line x1="492" y1="563" x2="492" y2="565.5" stroke="#000" stroke-width="1.2"/>
<line x1="405.19" y1="492" x2="405.19" y2="485.61" stroke="#000" stroke-width="1.3"/>
<line x1="403.94" y1="485.61" x2="406.44" y2="485.61" stroke="#000" stroke-width="1.3"/>
<line x1="463.06" y1="485.61" x2="463.06" y2="477.09" stroke="#000" stroke-width="1.3"/>
<line x1="461.81" y1="477.09" x2="464.31" y2="477.09" stroke="#000" stroke-width="1.3"/>
<rect x="389.39" y="492.7" width="31.7" height="70.3" fill="#c0c0c0" stroke="#000" stroke-width="1.4"/>
<rect x="447.26" y="486.31" width="31.7" height="76.69" fill="#333333" stroke="#000" stroke-width="1.4"/>
<polyline points="417.5,473.4 417.5,468.1 454.4,468.1 454.4,473.4" fill="none" stroke="#000" stroke-width="1.3"/>
<text transform="translate(429.18 477.94) scale(0.9320 1)" font-size="11.858" style="font-style:italic" fill="#000">n.s.</text>
<g transform="translate(411.87 458.14) scale(1.2159 1)"><text font-size="7.645" style="font-weight:bold"><tspan x="-0.36">L</tspan><tspan x="4.19">a</tspan><tspan x="8.47">c</tspan><tspan x="12.62">Z</tspan><tspan x="19.71">m</tspan><tspan x="26.26">R</tspan><tspan x="31.81">N</tspan><tspan x="37.21">A</tspan></text></g>
<g transform="translate(383.39 575.04) scale(1.1863 1)"><text font-size="6.630" style="font-weight:bold"><tspan x="0.04">v</tspan><tspan x="3.81">W</tspan><tspan x="9.96">F</tspan><tspan x="13.75">L</tspan><tspan x="17.69">a</tspan><tspan x="21.4">c</tspan><tspan x="25">Z</tspan></text><path d="M29.38 0.73 L30.56 0.73 L32.78 -4.94 L31.6 -4.94 Z M33.46 -1.66 H37.38 V-2.95 H33.46 Z M34.86 -0.07 H35.99 V-4.54 H34.86 Z" fill="#000"/></g>
<g transform="translate(432.59 575.04) scale(1.2071 1)"><text font-size="6.630" style="font-weight:bold"><tspan x="0.04">v</tspan><tspan x="3.81">W</tspan><tspan x="9.96">F</tspan><tspan x="13.91">Δ</tspan><tspan x="18.75" style="font-family:'Liberation Serif',serif" font-size="6.964">I</tspan><tspan x="21.69">n</tspan><tspan x="25.99">t</tspan><tspan x="28.1">L</tspan><tspan x="32.04">a</tspan><tspan x="35.75">c</tspan><tspan x="39.35">Z</tspan></text><path d="M43.73 0.73 L44.91 0.73 L47.13 -4.94 L45.95 -4.94 Z M47.81 -1.66 H51.73 V-2.95 H47.81 Z M49.21 -0.07 H50.34 V-4.54 H49.21 Z" fill="#000"/></g>
<line x1="374" y1="578.6" x2="495.2" y2="578.6" stroke="#000" stroke-width="1.3"/>
<text transform="translate(419.83 591.14) scale(0.9188 1)" font-size="13.152" style="font-weight:bold" fill="#000">Total</text>
<g transform="translate(354.74 535.74) rotate(-90) translate(-0.14 0) scale(1.2401 1)"><text font-size="6.341" style="font-weight:bold"><tspan x="-0.31">R</tspan><tspan x="4.3">e</tspan><tspan x="7.97">l</tspan><tspan x="9.76">a</tspan><tspan x="13.68">t</tspan><tspan x="17.91">v</tspan><tspan x="21.52">e</tspan><tspan x="27.06">u</tspan><tspan x="30.96">n</tspan><tspan x="36.95">t</tspan><tspan x="39.16">s</tspan></text><path d="M16.4 -0 H17.46 V-3.46 H16.4 Z M16.38 -3.9 H17.49 V-4.88 H16.38 Z M35.28 -0 H36.34 V-3.46 H35.28 Z M35.25 -3.9 H36.37 V-4.88 H35.25 Z" fill="#000"/></g>
</g>
</svg>
</body></html>
